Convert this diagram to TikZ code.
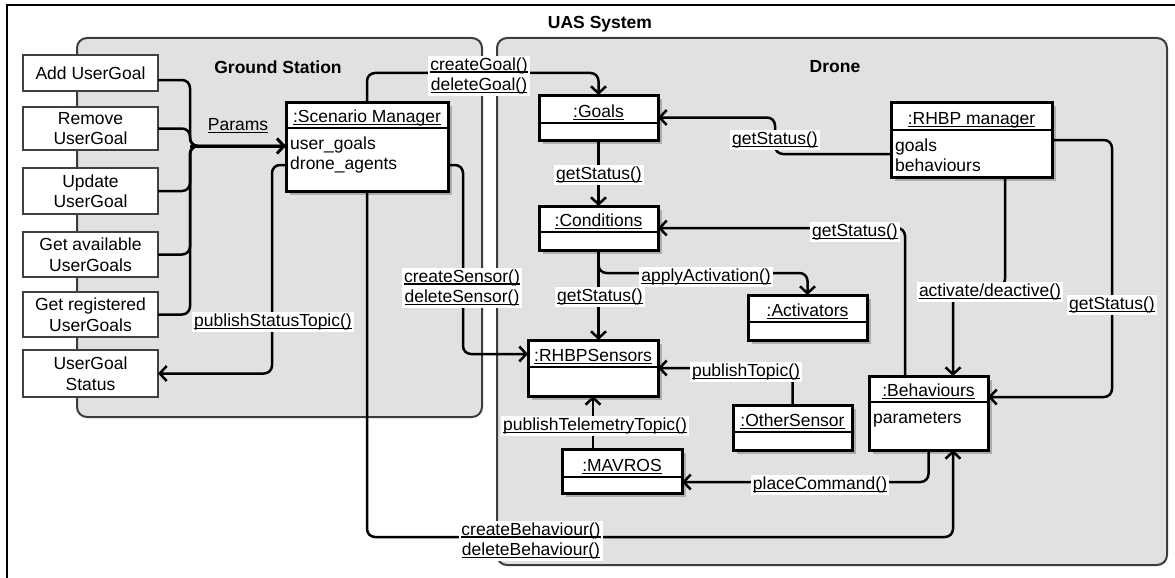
\documentclass[tikz,border=0pt]{standalone}
\usepackage{fontspec}
\setmainfont{Liberation Sans}
\usetikzlibrary{arrows.meta,calc,shadows}

\definecolor{panelfill}{HTML}{E1E1E1}
\definecolor{panelline}{HTML}{3C3C3C}
\definecolor{ctrlline}{HTML}{404040}

% underline drawn at a fixed depth, crossing descenders
\newcommand\ul[1]{\setbox0\hbox{#1}\rlap{\rule[-2.4pt]{\wd0}{1.3pt}}\box0}

\tikzset{
  basefont/.style={font=\fontsize{17.5}{20.5}\selectfont},
  panelbox/.style={draw=panelline, fill=panelfill, line width=2pt, rounded corners=10pt,
    inner sep=0pt, outer sep=0pt, anchor=north west},
  paneltitle/.style={font=\fontsize{17.5}{20.5}\selectfont\bfseries, inner sep=0pt},
  ctrl/.style={draw=ctrlline, fill=white, line width=2.5pt, align=center,
    minimum width=135pt, inner sep=0pt, outer sep=0pt},
  umlbox/.style={draw=black, fill=white, line width=3pt, inner sep=0pt, outer sep=0pt,
    drop shadow={shadow xshift=3.5pt, shadow yshift=-3.5pt, fill=black!32, opacity=1}},
  umlsep/.style={line width=2.5pt},
  umltitle/.style={anchor=base, inner sep=0pt},
  umlattr/.style={anchor=base west, inner sep=0pt},
  conn/.style={line width=2.5pt, rounded corners=8pt},
  msg/.style={fill=white, align=center, inner sep=2pt},
}

% object box: name, x1, y1, x2, y2, y of divider, title, first and second attribute
\newcommand\umlobj[9]{%
  \pgfmathsetmacro\objW{#4-#2}\pgfmathsetmacro\objH{#5-#3}%
  \pgfmathsetmacro\objCx{(#2+#4)/2}\pgfmathsetmacro\objCy{(#3+#5)/2}%
  \node[umlbox, minimum width=\objW pt, minimum height=\objH pt] (#1) at (\objCx,\objCy) {};
  \draw[umlsep] (#2,#6) -- (#4,#6);
  \node[umltitle] (#1-title) at (\objCx,#6-5.5) {\ul{#7}};
  \node[umlattr] (#1-attra) at (#2+4,#6+21) {#8};
  \node[umlattr] (#1-attrb) at (#2+4,#6+41.5) {#9};
}

\begin{document}
\begin{tikzpicture}[x=1pt, y=-1pt, basefont,
  >={Straight Barb[length=7pt,width=15pt]}]
\useasboundingbox (0,0) rectangle (1175,578);

% system frame
\draw[line width=1.5pt] (7,600) -- (7,5) -- (1200,5);
\node[paneltitle] (uas-title) at (600,24) {UAS System};

% subsystem panels
\node[panelbox, minimum width=405pt, minimum height=379pt] (gs) at (77,38) {};
\node[panelbox, minimum width=670pt, minimum height=527pt] (drone) at (497,38) {};
\node[paneltitle] (gs-title) at (278,67) {Ground Station};
\node[paneltitle] (drone-title) at (835,67) {Drone};

% ground station controls
\node[ctrl, minimum height=36pt] (addg) at (90.5,73) {Add UserGoal};
\node[ctrl, minimum height=43pt] (remg) at (90.5,128.5) {Remove\\UserGoal};
\node[ctrl, minimum height=46pt] (updg) at (90.5,191) {Update\\UserGoal};
\node[ctrl, minimum height=45pt] (avlg) at (90.5,254.5) {Get available\\UserGoals};
\node[ctrl, minimum height=45pt] (regg) at (90.5,314.5) {Get registered\\UserGoals};
\node[ctrl, minimum height=47pt] (stat) at (90.5,373.5) {UserGoal\\Status};

% objects
\umlobj{sm}{286}{102}{448}{191}{128}{:Scenario Manager}{user\_goals}{drone\_agents}
\umlobj{goals}{539}{95}{658}{140}{123}{:Goals}{}{}
\umlobj{cond}{539}{206}{658}{250}{232}{:Conditions}{}{}
\umlobj{sens}{528}{340}{658}{396}{367}{:RHBPSensors}{}{}
\umlobj{act}{748}{295}{867}{340}{322}{:Activators}{}{}
\umlobj{other}{733}{405}{852}{450}{432}{:OtherSensor}{}{}
\umlobj{mav}{562}{449}{682}{493}{477}{:MAVROS}{}{}
\umlobj{rhbp}{891}{102}{1052}{177}{130}{:RHBP manager}{goals}{behaviours}
\umlobj{beh}{869}{376}{988}{450}{402}{:Behaviours}{parameters}{}

% user goal requests into the scenario manager
\coordinate (pj) at (190,146);
\draw[conn] ($(addg.east)+(0,7)$) -| (pj) -- (sm.west |- pj);
\draw[conn] (remg.east) -| (pj) -- (sm.west |- pj);
\draw[conn] (updg.east) -| (pj) -- (sm.west |- pj);
\draw[conn] (avlg.east) -| (pj) -- (sm.west |- pj);
\draw[conn] (regg.east) -| (pj) -- (sm.west |- pj);
\draw[conn, ->, line width=3pt] (pj) -- (sm.west |- pj);

% status back to the user
\draw[conn, ->] ($(sm.south west)+(0,-26)$) -| ($(stat.east)+(114,0)$) -- (stat.east);

% scenario manager to the drone
\draw[conn, ->] (sm.north) |- ($(goals.north)+(0,-22)$) -- (goals.north);
\draw[conn, ->] ($(sm.south east)+(0,-26)$) -| ($(sens.north west)+(-65,14)$) -- ($(sens.north west)+(0,14)$);
\draw[conn, ->] (sm.south) |- ($(beh.south)+(24.5,87)$) -- ($(beh.south)+(24.5,0)$);

% inside the drone
\draw[conn, ->] (goals.south) -- (cond.north);
\draw[conn, ->] (cond.south) -- (cond.south |- sens.north);
\draw[conn, ->] (cond.south) |- ($(act.north)+(0,-22)$) -- (act.north);
\coordinate (gk) at (775,0);
\draw[conn, ->] ($(rhbp.north west)+(0,52)$) -| (gk |- goals.east) -- (goals.east);
\coordinate (actx) at (1005,287);
\draw[conn, ->] (rhbp.south -| actx) -- (actx) -| ($(beh.north)+(24.5,0)$);
\draw[conn, ->] ($(rhbp.north east)+(0,38)$) -| ($(beh.north east)+(124,21)$) -- ($(beh.north east)+(0,21)$);
\draw[conn, ->] ($(beh.north west)+(36,0)$) |- (cond.east);
\draw[conn, ->] (other.north) |- (sens.east);
\draw[conn, ->] (mav.north -| sens.south) -- (sens.south);
\draw[conn, ->] (beh.south) |- ($(mav.south east)+(0,-11)$);

% message labels
\node[inner sep=1pt] (m-params) at (238,126) {\ul{Params}};
\node[msg] (m-pst) at (273,322) {\ul{publishStatusTopic()}};
\node[msg] (m-goal) at (479,76) {\ul{createGoal()}\\\ul{deleteGoal()}};
\node[msg] (m-sensor) at (462,288) {\ul{createSensor()}\\\ul{deleteSensor()}};
\node[msg] (m-beh) at (531,541) {\ul{createBehaviour()}\\\ul{deleteBehaviour()}};
\node[msg] (m-gs1) at (599,175) {\ul{getStatus()}};
\node[msg] (m-gs2) at (600,297) {\ul{getStatus()}};
\node[msg] (m-apply) at (706,277) {\ul{applyActivation()}};
\node[msg] (m-gs3) at (775,140) {\ul{getStatus()}};
\node[msg] (m-gs4) at (855,232) {\ul{getStatus()}};
\node[msg] (m-activ) at (990,292) {\ul{activate/deactive()}};
\node[msg] (m-gs5) at (1112,305) {\ul{getStatus()}};
\node[msg] (m-pub) at (746,372) {\ul{publishTopic()}};
\node[msg] (m-tele) at (595,426) {\ul{publishTelemetryTopic()}};
\node[msg] (m-cmd) at (820,485) {\ul{placeCommand()}};
\end{tikzpicture}
\end{document}
